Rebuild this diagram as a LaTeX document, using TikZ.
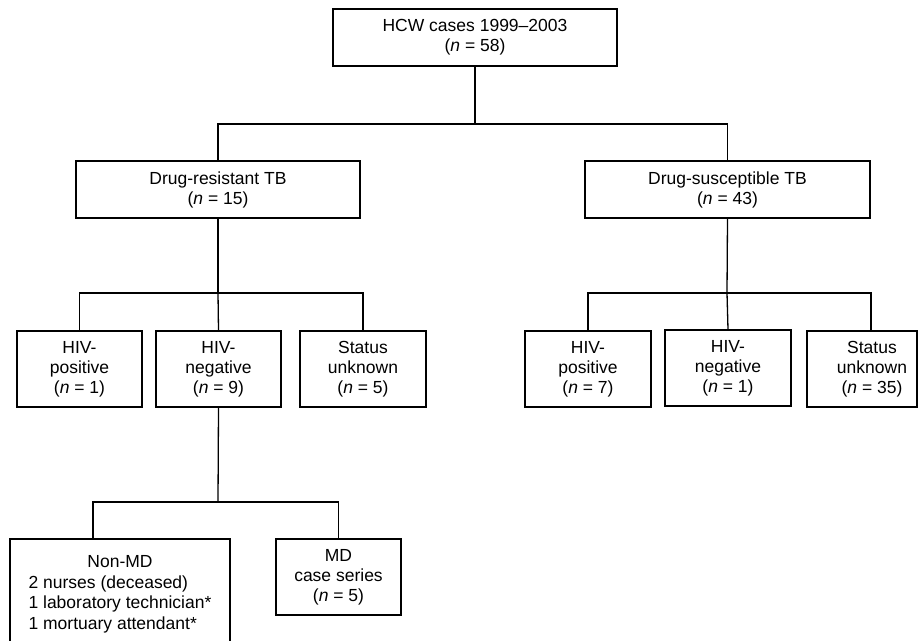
\documentclass[tikz,border=0pt]{standalone}
\usepackage{fontspec}
\setmainfont{Liberation Sans}
\begin{document}
\begin{tikzpicture}[x=1pt,y=-1pt,
  box/.style={draw=black, line width=1.3pt, rectangle, inner sep=0pt, align=center,
    font=\fontsize{17.5}{20}\selectfont},
  conn/.style={draw=black, line width=1.3pt}]
\useasboundingbox (0,0) rectangle (920,640);
% level 0
\node[box, minimum width=284pt, minimum height=57pt] (top) at (475,37.5)
  {HCW cases 1999--2003\\(\textit{n} = 58)};
% level 1
\node[box, minimum width=284pt, minimum height=57pt] (dr) at (218,189.5)
  {Drug-resistant TB\\(\textit{n} = 15)};
\node[box, minimum width=285pt, minimum height=57pt] (ds) at (727.5,189.5)
  {Drug-susceptible TB\\(\textit{n} = 43)};
% level 2 left
\node[box, minimum width=125pt, minimum height=76pt] (hp1) at (79.5,369)
  {HIV-\\positive\\(\textit{n} = 1)};
\node[box, minimum width=125pt, minimum height=76pt] (hn1) at (218.5,369)
  {HIV-\\negative\\(\textit{n} = 9)};
\node[box, minimum width=126pt, minimum height=76pt] (su1) at (363,369)
  {Status\\unknown\\(\textit{n} = 5)};
% level 2 right
\node[box, minimum width=126pt, minimum height=76pt] (hp2) at (588,369)
  {HIV-\\positive\\(\textit{n} = 7)};
\node[box, minimum width=126pt, minimum height=76pt] (hn2) at (728,368)
  {HIV-\\negative\\(\textit{n} = 1)};
\node[box, minimum width=110pt, minimum height=76pt] (su2) at (862,369)
  {\hspace*{20pt}\begin{tabular}{@{}c@{}}Status\\unknown\\(\textit{n} = 35)\end{tabular}};
% level 3
\node[box, minimum width=220pt, minimum height=111pt, font=\fontsize{17.5}{20.5}\selectfont] (nonmd) at (120,594.5)
  {\begin{tabular}{@{}l@{}}\multicolumn{1}{@{}c@{}}{Non-MD}\\2 nurses (deceased)\\1 laboratory technician*\\1 mortuary attendant*\end{tabular}};
\node[box, minimum width=125pt, minimum height=76pt] (md) at (338.5,577)
  {MD\\case series\\(\textit{n} = 5)};
% junctions
\coordinate (j0) at (475,124);
\coordinate (j1) at (218,293);
\coordinate (j2) at (727,293);
\coordinate (j3) at (218,502);
% connectors
\draw[conn] (top.south) -- (j0);
\draw[conn] (dr.north) |- (j0) -| (ds.north);
\draw[conn] (dr.south) -- (j1);
\draw[conn] (hp1.north) |- (j1) -| (su1.north);
\draw[conn] (j1) -- (hn1.north);
\draw[conn] (ds.south) -- (j2);
\draw[conn] (hp2.north) |- (j2);
\draw[conn] (j2) -- (hn2.north);
\draw[conn] (j2) -| ([xshift=9pt]su2.north);
\draw[conn] (hn1.south) -- (j3);
\draw[conn] ([xshift=-27pt]nonmd.north) |- (j3) -| (md.north);
\end{tikzpicture}
\end{document}
